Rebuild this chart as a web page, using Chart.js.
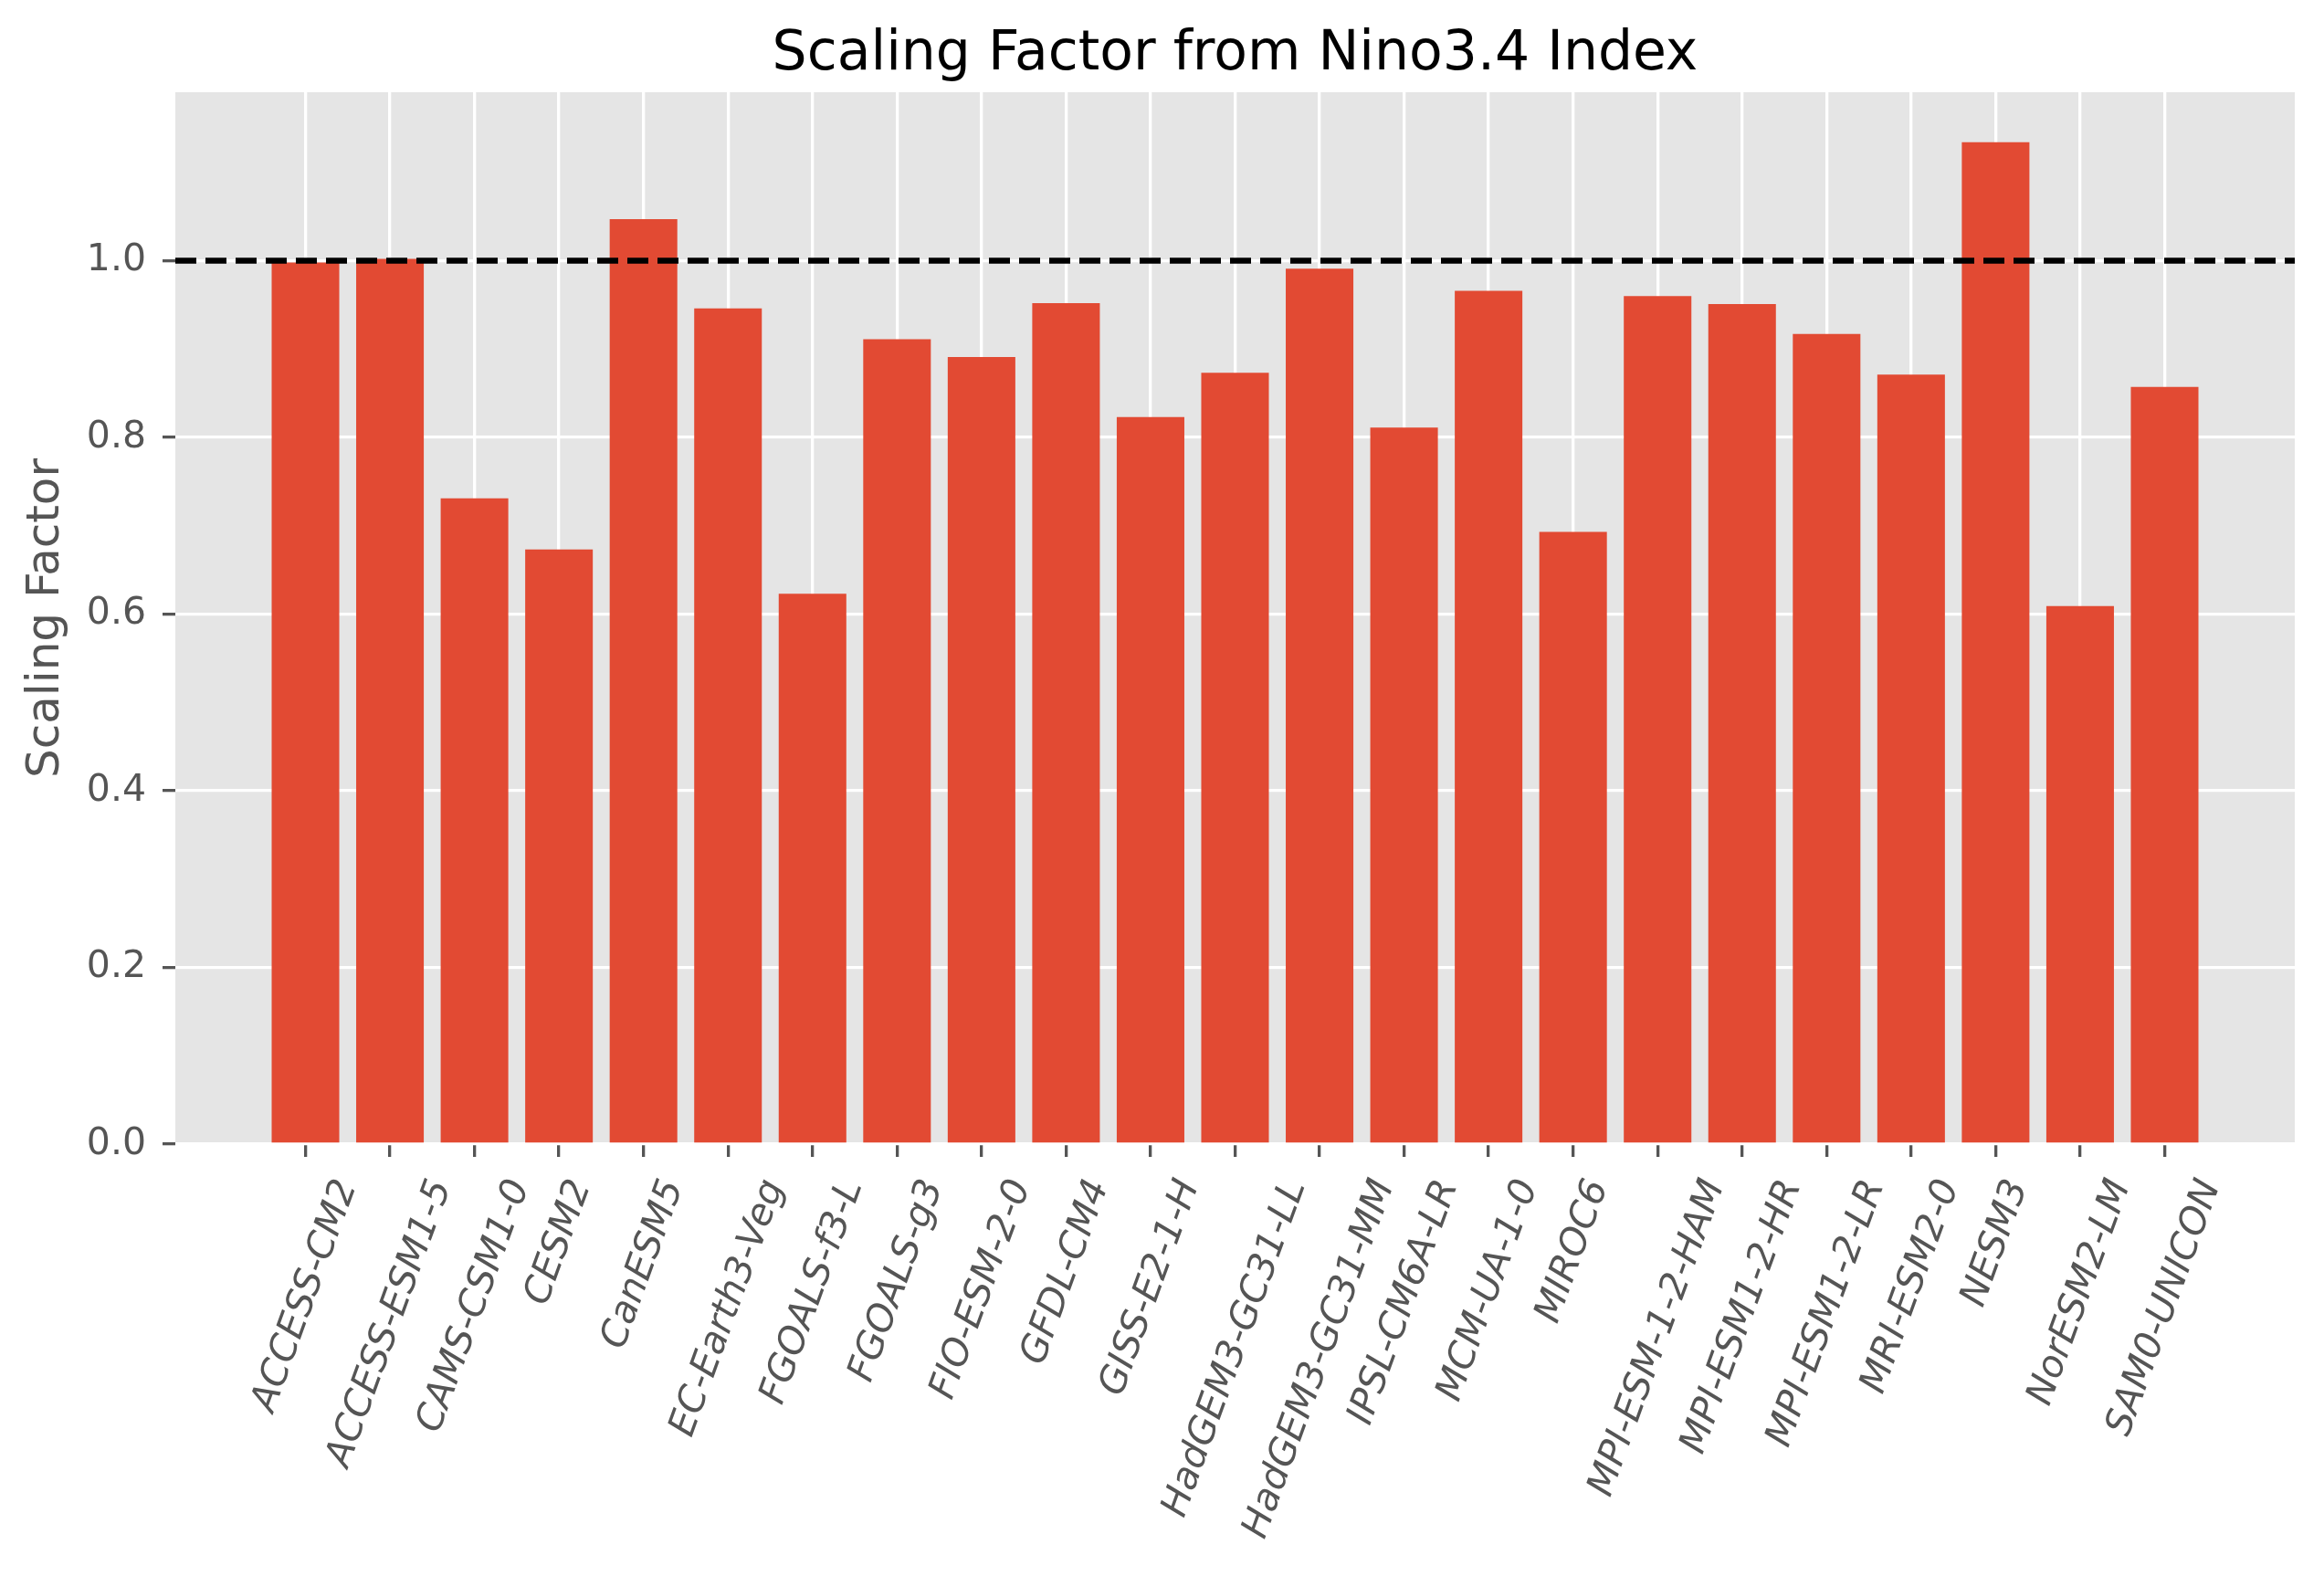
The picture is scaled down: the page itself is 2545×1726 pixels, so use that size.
<!DOCTYPE html>
<html>
<head>
<meta charset="utf-8">
<script src="https://cdn.jsdelivr.net/npm/chart.js@4/dist/chart.umd.min.js"></script>
<style>
  html, body { margin: 0; padding: 0; background: #fff; overflow: hidden; }
  canvas { display: block; }
</style>
</head>
<body>
<canvas id="c" width="2545" height="1726"></canvas>
<script>
// ---- data ----
const categories = [
  'ACCESS-CM2', 'ACCESS-ESM1-5', 'CAMS-CSM1-0', 'CESM2', 'CanESM5', 'EC-Earth3-Veg',
  'FGOALS-f3-L', 'FGOALS-g3', 'FIO-ESM-2-0', 'GFDL-CM4', 'GISS-E2-1-H',
  'HadGEM3-GC31-LL', 'HadGEM3-GC31-MM', 'IPSL-CM6A-LR', 'MCM-UA-1-0', 'MIROC6',
  'MPI-ESM-1-2-HAM', 'MPI-ESM1-2-HR', 'MPI-ESM1-2-LR', 'MRI-ESM2-0', 'NESM3',
  'NorESM2-LM', 'SAM0-UNICON'
];
const scalingFactor = [
  0.998, 1.002, 0.731, 0.673, 1.047, 0.946,
  0.623, 0.911, 0.891, 0.952, 0.823,
  0.873, 0.991, 0.811, 0.966, 0.693,
  0.960, 0.951, 0.917, 0.871, 1.134,
  0.609, 0.857
];
const referenceLevel = 1.0;
const yTickStep = 0.2;
const titleText = 'Scaling Factor from Nino3.4 Index';
const yAxisLabel = 'Scaling Factor';

// axis limits (matplotlib-style 5% margins)
const X_MIN = -0.4 - 0.05 * (categories.length - 1 + 0.8);
const X_MAX = categories.length - 1 + 0.4 + 0.05 * (categories.length - 1 + 0.8);
const Y_MAX = Math.max(...scalingFactor) * 1.05;

const FONT = '"DejaVu Sans", "Liberation Sans", sans-serif';

const bgPlugin = {
  id: 'bg',
  beforeDraw(chart) {
    const { ctx, chartArea: a } = chart;
    ctx.save();
    ctx.fillStyle = '#ffffff';
    ctx.fillRect(0, 0, chart.width, chart.height);
    ctx.fillStyle = '#E5E5E5';
    ctx.fillRect(a.left, a.top, a.right - a.left, a.bottom - a.top);
    ctx.restore();
  }
};

const xLabelPlugin = {
  id: 'xLabels',
  afterDraw(chart) {
    const { ctx, chartArea, scales } = chart;
    const xs = scales.x;
    const fs = 41;
    const th = 70 * Math.PI / 180;
    ctx.save();
    ctx.font = 'italic ' + fs + 'px ' + FONT;
    ctx.fillStyle = '#555555';
    ctx.textAlign = 'center';
    ctx.textBaseline = 'alphabetic';
    const top = chartArea.bottom + 14 + 14 + 6;
    categories.forEach((lab, i) => {
      const px = xs.getPixelForValue(i);
      const w = ctx.measureText(lab).width;
      const h = fs * 1.0;
      const H = w * Math.sin(th) + h * Math.cos(th);
      const cy = top + H / 2;
      ctx.save();
      ctx.translate(px, cy);
      ctx.rotate(-th);
      ctx.fillText(lab, 0, fs * 0.265);
      ctx.restore();
    });
    ctx.restore();
  }
};

new Chart(document.getElementById('c'), {
  type: 'bar',
  data: {
    datasets: [
      {
        type: 'line',
        label: 'reference',
        data: [{ x: X_MIN, y: referenceLevel }, { x: X_MAX, y: referenceLevel }],
        borderColor: '#000000',
        borderWidth: 6.6,
        borderDash: [23, 10],
        pointRadius: 0,
        fill: false,
        order: 0
      },
      {
        type: 'bar',
        label: 'Scaling Factor',
        data: categories.map((c, i) => ({ x: i, y: scalingFactor[i] })),
        backgroundColor: '#E24A33',
        borderWidth: 0,
        barPercentage: 0.8,
        categoryPercentage: 1.0,
        order: 1
      }
    ]
  },
  options: {
    responsive: false,
    devicePixelRatio: 1,
    animation: false,
    events: [],
    layout: { padding: { left: 0, right: 32, top: 0, bottom: 0 } },
    plugins: {
      legend: { display: false },
      tooltip: { enabled: false },
      title: {
        display: true,
        text: titleText,
        color: '#000000',
        fullSize: false,
        font: { family: FONT, size: 60, weight: 'normal' },
        padding: { top: 24, bottom: 5 }
      }
    },
    scales: {
      x: {
        type: 'linear',
        min: X_MIN,
        max: X_MAX,
        offset: false,
        afterBuildTicks: (s) => { s.ticks = categories.map((c, i) => ({ value: i })); },
        afterFit: (s) => { s.height = 473; },
        ticks: { autoSkip: false, maxRotation: 0, minRotation: 0, callback: () => '' },
        grid: {
          offset: false,
          color: '#ffffff',
          lineWidth: 3.3,
          tickColor: '#555555',
          tickLength: 14,
          tickWidth: 3.3,
          drawOnChartArea: true
        },
        border: { display: false }
      },
      y: {
        type: 'linear',
        min: 0,
        max: Y_MAX,
        afterFit: (s) => { s.width = 192; },
        ticks: {
          stepSize: yTickStep,
          includeBounds: false,
          color: '#555555',
          padding: 18,
          font: { family: FONT, size: 41 },
          callback: (v) => v.toFixed(1)
        },
        grid: {
          color: '#ffffff',
          lineWidth: 3.3,
          tickColor: '#555555',
          tickLength: 14,
          tickWidth: 3.3
        },
        border: { display: false },
        title: {
          display: true,
          text: yAxisLabel,
          color: '#555555',
          font: { family: FONT, size: 50 },
          padding: { top: 21, bottom: 0 }
        }
      }
    }
  },
  plugins: [bgPlugin, xLabelPlugin]
});
</script>
</body>
</html>
